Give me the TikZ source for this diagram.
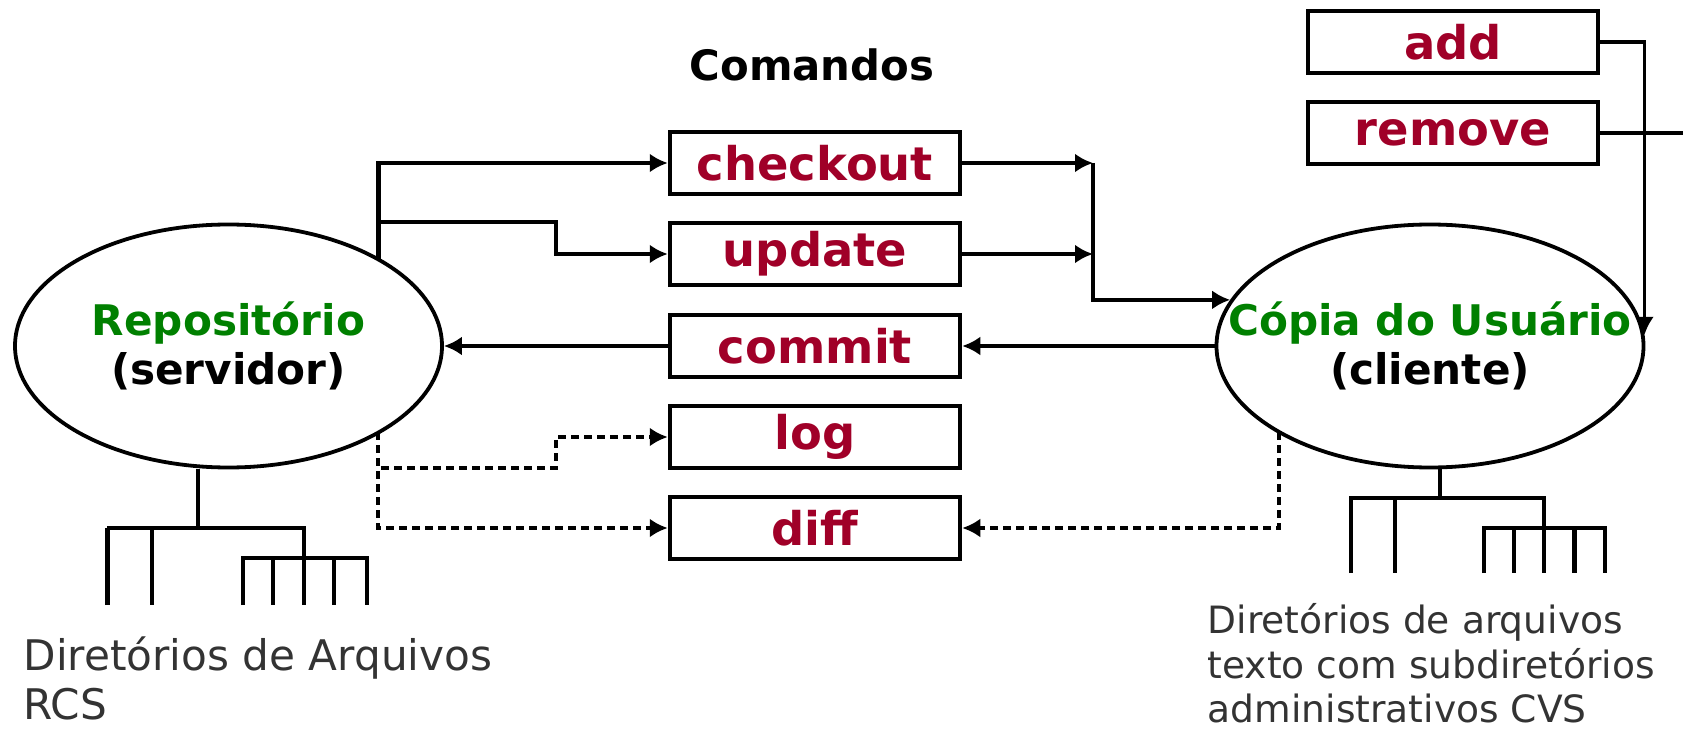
\documentclass[tikz,border=0pt]{standalone}
\usepackage{fontspec}
\setmainfont{DejaVu Sans}
\usepackage{tikz}
\usetikzlibrary{arrows.meta, shapes.geometric, calc}

\definecolor{cmdred}{HTML}{A00028}
\definecolor{sitegreen}{HTML}{008000}

% two centred lines that do not widen the ellipse
\newcommand{\sitelabel}[2]{\makebox[0pt]{\textcolor{sitegreen}{#1}}\\\makebox[0pt]{#2}}

\tikzset{
  cmdbox/.style={draw, line width=0.045cm, minimum width=2.9cm, minimum height=0.62cm,
    inner sep=0pt, text=cmdred, font=\fontsize{13.2}{15}\selectfont\bfseries},
  site/.style={ellipse, draw, line width=0.038cm, minimum width=4.27cm, minimum height=2.43cm,
    inner sep=0pt, align=center, font=\fontsize{12}{13.9}\selectfont\bfseries},
  flow/.style={line width=0.036cm, -{Latex[length=0.18cm,width=0.19cm]}},
  query/.style={flow, dash pattern=on 0.08cm off 0.05cm},
  tree/.style={line width=0.036cm},
  note/.style={align=left, text=black!80, inner sep=0pt},
}

\begin{document}
\begin{tikzpicture}
  \useasboundingbox (0,0) rectangle (16.83,7.30);

  % repositorio e copia
  \node[site] (repo) at (2.285,3.84) {\sitelabel{Repositório}{(servidor)}};
  \node[site] (copy) at (14.30,3.84) {\sitelabel{Cópia do Usuário}{(cliente)}};

  % comandos
  \node[anchor=base, font=\fontsize{11.9}{14}\selectfont\bfseries] (title) at (8.12,6.49) {Comandos};
  \node[cmdbox] (checkout) at (8.15,5.67) {checkout};
  \node[cmdbox] (update)   at (8.15,4.76) {update};
  \node[cmdbox] (commit)   at (8.15,3.84) {commit};
  \node[cmdbox] (log)      at (8.15,2.93) {log};
  \node[cmdbox] (diff)     at (8.15,2.02) {diff};
  \node[cmdbox] (add)      at (14.53,6.88) {add};
  \node[cmdbox] (remove)   at (14.53,5.97) {remove};

  % pontos de desvio
  \coordinate (rtop)  at (3.78,4.71);
  \coordinate (rbot)  at (3.78,2.98);
  \coordinate (ubend) at (5.56,5.08);
  \coordinate (lbend) at (5.56,2.62);
  \coordinate (cjoin) at (10.93,5.67);
  \coordinate (cbot)  at (12.79,2.98);
  \coordinate (rmend) at (16.83,5.97);

  \draw[flow] (rtop) |- (checkout);
  \draw[line width=0.05cm] (rtop) -- (rtop |- checkout);
  \draw[flow] (rtop |- ubend) -- (ubend) |- (update);
  \draw[query] (rbot) |- (lbend) |- (log);
  \draw[query] (rbot) |- (diff);

  \draw[flow] (checkout) -- (cjoin);
  \draw[flow] (update) -- (update -| cjoin);
  \draw[flow] (cjoin) |- (copy.167);
  \draw[flow] (copy) -- (commit);
  \draw[flow] (commit) -- (repo);
  \draw[query] (cbot) |- (diff);

  \draw[flow] (add) -| (copy.3);
  \draw[line width=0.036cm] (remove) -- (rmend);

  % arvore do repositorio
  \draw[tree] (repo.south -| 1.98,0) -- (1.98,2.02);
  \draw[tree, line width=0.05cm] (1.07,1.25) -- (1.07,2.02);
  \draw[tree] (1.07,2.02) -| (3.04,1.72);
  \draw[tree] (1.52,2.02) -- (1.52,1.25);
  \draw[tree] (2.43,1.25) |- (3.67,1.72) -- (3.67,1.25);
  \foreach \x in {2.73,3.04,3.34}
    \draw[tree] (\x,1.72) -- (\x,1.25);

  % arvore da copia
  \draw[tree] (copy.south -| 14.40,0) -- (14.40,2.32);
  \draw[tree] (13.51,1.57) |- (15.44,2.32) -- (15.44,2.02);
  \draw[tree] (13.95,2.32) -- (13.95,1.57);
  \draw[tree] (14.84,1.57) |- (16.05,2.02) -- (16.05,1.57);
  \foreach \x in {15.14,15.44}
    \draw[tree] (\x,2.02) -- (\x,1.57);
  \draw[tree, line width=0.05cm] (15.74,2.02) -- (15.74,1.57);

  \node[note, anchor=north west, font=\fontsize{12}{13.9}\selectfont] (rcsnote) at (0.23,0.94)
    {Diretórios de Arquivos\\RCS};
  \node[note, anchor=north west, font=\fontsize{10.7}{12.6}\selectfont] (cvsnote) at (12.07,1.27)
    {Diretórios de arquivos\\texto com subdiretórios\\administrativos CVS};
\end{tikzpicture}
\end{document}
